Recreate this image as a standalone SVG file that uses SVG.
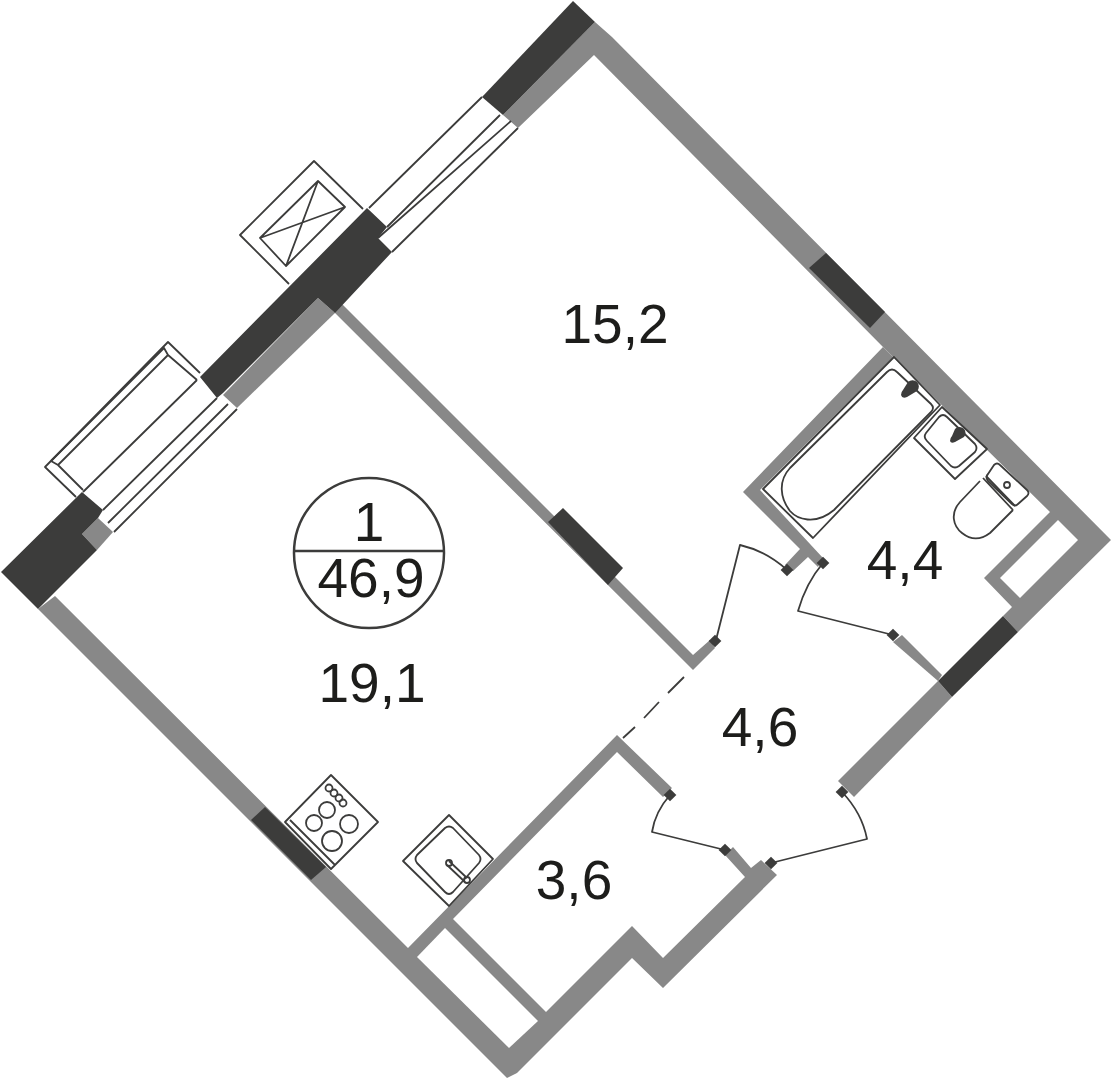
<svg xmlns="http://www.w3.org/2000/svg" width="1111" height="1080" viewBox="0 0 1111 1080">
<style>
.g{fill:#888888}
.d{fill:#3c3c3b}
.l{fill:none;stroke:#3c3c3b;stroke-width:1.8;stroke-linejoin:round;stroke-linecap:butt}
.t{fill:#fff;stroke:#3c3c3b;stroke-width:1.8;stroke-linejoin:round}
.b{font-family:"Liberation Sans",Arial,sans-serif;font-size:55px;fill:#1d1d1b}
</style>
<defs>
<rect id="j" x="-4.5" y="-4.5" width="9" height="9" class="d" transform="rotate(45)"/>
</defs>
<rect width="1111" height="1080" fill="#fff"/>
<g id="walls">
<polygon class="g" points="595,22 612,37 1111,540 1018,632 1003,616 1012,607 984,578 1050,512 893,357 883,347 594,55 518,128 503,115"/>
<polygon class="g" points="1058,520 1078,540 1020,598 1000,578" fill="#fff" style="fill:#fff"/>
<polygon class="g" points="883,347 893,357 760,490 823,558 818,567 808,557 793,571 785,565 800,549 743,492"/>
<polygon class="g" points="902,635 942,675 938,681 893,642"/>
<polygon class="g" points="938,681 952,697 854,797 838,781"/>
<polygon class="g" points="342,304 658,620 693,655 710,640 715,648 693,670 643,620 334,312"/>
<polygon class="g" points="318,298 335,313 237,408 223,395"/>
<polygon class="g" points="98,518 113,532 97,550 82,534"/>
<polygon class="g" points="38,609 55,596 408,948 617,735 672,788 663,797 617,752 453,919 546,1012 632,926 663,958 745,877 725,855 733,847 751,868 761,860 777,875 663,988 632,958 517,1073 507,1078"/>
<polygon points="417,957 445,928 538,1021 509,1048" fill="#fff"/>
<polygon class="d" points="573,1 595,22 503,115 482,97"/>
<polygon class="d" points="826,253 885,312 870,328 809,268"/>
<polygon class="d" points="1003,616 1018,632 952,697 938,681"/>
<polygon class="d" points="563,508 623,568 608,585 548,522"/>
<polygon class="d" points="265,807 326,867 311,880 251,820"/>
<polygon class="d" points="367,208 387,227 378,238 392,252 335,313 318,298 223,393 217,398 200,377"/>
<polygon class="d" points="1,572 82,492 103,510 98,518 82,534 97,550 38,609"/>
</g>
<g id="windows">
<path class="l" d="M369,208L482,97M387,227L500,115M378,238L511,121M392,252L518,128"/>
<path class="l" d="M83,492L197,380M103,510L217,398M108,523L228,404M114,532L237,409"/>
</g>
<g id="balcony-box">
<path class="l" d="M200,373L168,342L45,467L76,497"/>
<path class="l" d="M197,380L168,355L58,465L83,490M51,461L164,348L168,355M51,461L58,465"/>
</g>
<g id="vent">
<path class="l" d="M363,209L314,161L240,235L289,284"/>
<path class="l" d="M318,181L345,207L286,266L260,238ZM318,181L286,266M345,207L260,238"/>
</g>
<g id="doors">
<path class="l" d="M893,635L798,611Q806,583 823,563"/>
<path class="l" d="M787,570Q766,551 740,545L716,640"/>
<path class="l" d="M670,795Q655,812 652,832L725,850"/>
<path class="l" d="M842,792Q862,813 867,839L771,863"/>
<use href="#j" x="893" y="635"/><use href="#j" x="823" y="563"/><use href="#j" x="787" y="570"/><use href="#j" x="715" y="641"/><use href="#j" x="670" y="795"/><use href="#j" x="725" y="850"/><use href="#j" x="842" y="792"/><use href="#j" x="771" y="863"/>
<path class="l" d="M623,738L635,727M644,718L659,702M668,693L684,677"/>
</g>
<g id="stove">
<path class="l" d="M331,775L378,822L331,869L285,822ZM290,820L335,865"/>
<circle class="l" cx="327" cy="810" r="8"/><circle class="l" cx="314" cy="823" r="8"/><circle class="l" cx="349" cy="824" r="9"/><circle class="l" cx="332" cy="841" r="10"/>
<circle class="l" cx="329" cy="788" r="3.5"/><circle class="l" cx="334" cy="793" r="3.5"/><circle class="l" cx="339" cy="798" r="3.5"/><circle class="l" cx="343" cy="803" r="3.5"/>
</g>
<g id="kitchen-sink">
<path class="l" d="M449,815L493,859L449,906L403,861Z"/>
<path class="l" d="M445,828Q449,825 453,828L479,855Q482,859 479,863L453,892Q449,896 445,892L417,863Q414,859 417,855Z"/>
<circle class="l" cx="449" cy="863" r="3"/><circle class="l" cx="467" cy="880" r="3"/>
<path class="l" d="M449,861L467,878M447,865L465,882"/>
</g>
<g id="bath">
<path class="l" d="M894,357L940,405L813,538L763,489Z"/>
<path class="l" d="M887,372Q892,367 897,372L931,404Q935,408 931,412L834,510C815,526 797,519 790,511C780,498 778,481 790,468Z"/>
<path class="d" d="M908,382A6,6 0 1 1 917,391L907,397Q902,399 901,395Q901,392 903,390Z"/>
</g>
<g id="basin">
<path class="l" d="M942,407L987,449L955,479L914,438Z"/>
<path class="l" d="M939,417Q943,413 947,417L975,444Q978,448 975,452L959,466Q955,469 951,466L927,441Q923,437 926,433Z"/>
<path class="d" d="M955,429A5.500,5.500 0 1 1 964,437L955,442Q951,444 950,441Q950,438 952,436Z"/>
</g>
<g id="toilet">
<path class="l" d="M994,465Q997,462 1000,465L1027,490Q1030,493 1027,496L1018,504Q1015,507 1012,504L988,481Q985,477 988,474Z"/>
<circle class="l" cx="1007" cy="485" r="3"/>
<path class="l" d="M983,478L1013,510M980,481L960,502C950,513 953,526 962,533C972,541 982,539 990,533L1013,510M986,476L1015,506"/>
</g>
<g id="badge">
<circle class="l" cx="369" cy="553" r="75" style="stroke-width:2.500"/>
<line class="l" x1="294" y1="551" x2="444" y2="551" style="stroke-width:2.500"/>
<text class="b" x="369" y="541" text-anchor="middle">1</text>
<text class="b" x="371" y="597" text-anchor="middle">46,9</text>
</g>
<g id="labels">
<text class="b" x="615" y="343" text-anchor="middle">15,2</text>
<text class="b" x="372" y="702" text-anchor="middle">19,1</text>
<text class="b" x="905" y="579" text-anchor="middle">4,4</text>
<text class="b" x="760" y="746" text-anchor="middle">4,6</text>
<text class="b" x="574" y="899" text-anchor="middle">3,6</text>
</g>
</svg>
